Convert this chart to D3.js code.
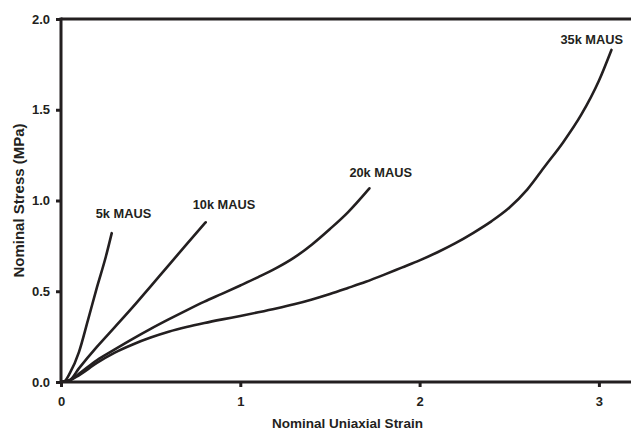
<!DOCTYPE html>
<html>
<head>
<meta charset="utf-8">
<script src="https://cdn.jsdelivr.net/npm/d3@7"></script>
<style>
  body { margin: 0; background: #fff; }
  text { font-family: "Liberation Sans", Arial, sans-serif; fill: #231f20; }
</style>
</head>
<body>
<div id="chart"></div>
<script>
var width = 631,
    height = 431;

// series: [strain, stress (MPa)]
var curve5k = [[0,0],[0.02,0.005],[0.05,0.05],[0.1,0.165],[0.15,0.34],[0.2,0.52],[0.25,0.69],[0.283,0.82]];
var curve10k = [[0,0],[0.05,0.012],[0.1,0.075],[0.2,0.193],[0.3,0.302],[0.4,0.412],[0.5,0.527],[0.6,0.643],[0.7,0.758],[0.807,0.88]];
var curve20k = [[0,0],[0.05,0.01],[0.1,0.045],[0.2,0.12],[0.3,0.18],[0.4,0.238],[0.5,0.293],[0.6,0.345],[0.7,0.395],[0.8,0.443],[0.9,0.487],[1.0,0.532],[1.1,0.578],[1.2,0.627],[1.3,0.685],[1.4,0.758],[1.5,0.843],[1.6,0.935],[1.72,1.067]];
var curve35k = [[0,0],[0.05,0.01],[0.1,0.037],[0.2,0.105],[0.3,0.162],[0.4,0.207],[0.5,0.245],[0.6,0.277],[0.7,0.303],[0.8,0.325],[0.9,0.345],[1.0,0.364],[1.1,0.384],[1.2,0.405],[1.3,0.428],[1.4,0.455],[1.5,0.485],[1.6,0.518],[1.7,0.552],[1.8,0.59],[1.9,0.63],[2.0,0.67],[2.1,0.715],[2.2,0.765],[2.3,0.822],[2.4,0.885],[2.5,0.96],[2.6,1.06],[2.7,1.19],[2.8,1.32],[2.9,1.47],[3.0,1.66],[3.07,1.83]];

var seriesNames = ["5k MAUS", "10k MAUS", "20k MAUS", "35k MAUS"];
var seriesData = [curve5k, curve10k, curve20k, curve35k];

var xTicks = [0, 1, 2, 3];
var yTicks = [0, 0.5, 1.0, 1.5, 2.0];

var margin = {left: 61, top: 19, bottom: 382};

var x = d3.scaleLinear().domain([0, 3.2]).range([margin.left, margin.left + 3.2 * 179.3]);
var y = d3.scaleLinear().domain([0, 2]).range([margin.bottom, margin.top]);

var svg = d3.select('#chart').append('svg')
  .attr('width', width)
  .attr('height', height);

// top edge of the plot area
svg.append('path')
  .attr('d', 'M' + x(0) + ',' + y(2) + 'H' + (width + 10))
  .attr('stroke', '#231f20')
  .attr('stroke-width', 3)
  .attr('fill', 'none');

var xAxis = svg.append('g')
  .attr('transform', 'translate(0,' + y(0) + ')')
  .call(d3.axisBottom(x).tickValues(xTicks).tickFormat(d3.format('d')).tickSize(5).tickPadding(10));

var yAxis = svg.append('g')
  .attr('transform', 'translate(' + x(0) + ',0)')
  .call(d3.axisLeft(y).tickValues(yTicks).tickFormat(d3.format('.1f')).tickSize(5).tickPadding(6));

[xAxis, yAxis].forEach(function(g) {
  g.select('.domain').attr('stroke', '#231f20').attr('stroke-width', 3);
  g.selectAll('.tick line').attr('stroke', '#231f20').attr('stroke-width', 3);
  g.selectAll('.tick text')
    .style('font-family', '"Liberation Sans", Arial, sans-serif')
    .style('font-size', '13px')
    .style('font-weight', 'bold')
    .attr('fill', '#231f20');
});
// domain extends past the edge
xAxis.select('.domain').attr('d', 'M' + x(0) + ',0H' + (width + 10));
yAxis.select('.domain').attr('d', 'M0,' + (y(2) - 1.5) + 'V' + y(0));

var line = d3.line()
  .x(function(d) { return x(d[0]); })
  .y(function(d) { return y(d[1]); })
  .curve(d3.curveMonotoneX);

svg.selectAll('path.curve')
  .data(seriesData)
  .enter().append('path')
  .attr('class', 'curve')
  .attr('d', line)
  .attr('fill', 'none')
  .attr('stroke', '#231f20')
  .attr('stroke-width', 2.6)
  .attr('stroke-linejoin', 'round')
  .attr('stroke-linecap', 'round');

// curve labels, placed above each curve end
var labelOffset = [[-16, -15], [-13, -13], [-20, -11], [-51, -6]];
svg.selectAll('text.lbl')
  .data(seriesData)
  .enter().append('text')
  .attr('class', 'lbl')
  .attr('x', function(d, i) { var e = d[d.length - 1]; return x(e[0]) + labelOffset[i][0]; })
  .attr('y', function(d, i) { var e = d[d.length - 1]; return y(e[1]) + labelOffset[i][1]; })
  .style('font-size', '12.8px')
  .style('font-weight', 'bold')
  .text(function(d, i) { return seriesNames[i]; });

svg.append('text')
  .attr('x', (x(0) + 634) / 2)
  .attr('y', 428)
  .attr('text-anchor', 'middle')
  .style('font-size', '13.5px')
  .style('font-weight', 'bold')
  .text('Nominal Uniaxial Strain');

svg.append('text')
  .attr('transform', 'translate(24,' + ((y(0) + y(2)) / 2) + ') rotate(-90)')
  .attr('text-anchor', 'middle')
  .style('font-size', '15px')
  .style('font-weight', 'bold')
  .text('Nominal Stress (MPa)');
</script>
</body>
</html>
